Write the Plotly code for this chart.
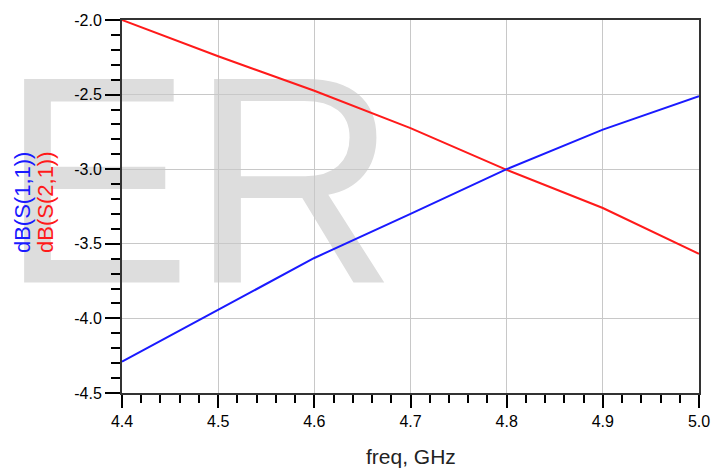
import base64
import plotly.graph_objects as go

# Frequency sweep (GHz) and S-parameter magnitudes (dB)
freq_ghz = [4.4, 4.5, 4.6, 4.7, 4.8, 4.9, 5.0]
s11_db = [-4.29, -3.94, -3.595, -3.30, -3.0, -2.735, -2.51]
s21_db = [-2.0, -2.243, -2.474, -2.725, -3.004, -3.26, -3.567]

x_ticks = [4.4, 4.5, 4.6, 4.7, 4.8, 4.9, 5.0]
x_tick_labels = ["4.4", "4.5", "4.6", "4.7", "4.8", "4.9", "5.0"]
y_ticks = [-4.5, -4.0, -3.5, -3.0, -2.5, -2.0]
y_tick_labels = ["-4.5", "-4.0", "-3.5", "-3.0", "-2.5", "-2.0"]

W, H = 722, 472
L, R, T, B = 122, 20, 15, 79
PW, PH = W - L - R, H - T - B
FONT = "Liberation Sans, Arial, sans-serif"


def px_x(px):
    return (px - L) / PW


def px_y(py):
    return (H - B - py) / PH


# Light grey "ER" mark laid under the grid (letters stretched slightly upward)
svg = (
    f'<svg xmlns="http://www.w3.org/2000/svg" width="{W}" height="{H}" '
    f'viewBox="0 0 {W} {H}">'
    f'<g transform="translate(0,281) scale(1,1.041)" '
    f'font-family="Liberation Sans, Arial, sans-serif" font-size="288" fill="#dddddd">'
    f'<text x="0" y="0">E</text><text x="191" y="0">R</text></g></svg>'
)
mark_src = "data:image/svg+xml;base64," + base64.b64encode(svg.encode()).decode()

fig = go.Figure()
fig.add_trace(go.Scatter(x=freq_ghz, y=s21_db, mode="lines",
                         line=dict(color="#ff1a1a", width=2), name="dB(S(2,1))"))
fig.add_trace(go.Scatter(x=freq_ghz, y=s11_db, mode="lines",
                         line=dict(color="#1a1aff", width=2), name="dB(S(1,1))"))

axis_common = dict(
    showgrid=True, gridcolor="#c8c8c8", gridwidth=1,
    ticks="outside", tickwidth=2, tickcolor="black",
    showline=True, linecolor="#333333", linewidth=2, mirror=True,
    zeroline=False, tickfont=dict(family=FONT, size=16, color="black"),
)

fig.update_layout(
    width=W, height=H,
    margin=dict(l=L, r=R, t=T, b=B, pad=0),
    paper_bgcolor="white", plot_bgcolor="rgba(0,0,0,0)",
    showlegend=False,
    xaxis=dict(range=[4.4, 5.0], tickvals=x_ticks, ticktext=x_tick_labels,
               ticklen=13,
               minor=dict(dtick=0.02, tick0=4.4, ticks="outside", ticklen=8,
                          tickwidth=2, tickcolor="black", showgrid=False),
               **axis_common),
    yaxis=dict(range=[-4.5, -2.0], tickvals=y_ticks, ticktext=y_tick_labels,
               ticklen=15,
               minor=dict(dtick=0.1, tick0=-4.5, ticks="outside", ticklen=9,
                          tickwidth=2, tickcolor="black", showgrid=False),
               **axis_common),
    images=[dict(source=mark_src, xref="paper", yref="paper",
                 x=-L / PW, y=1 + T / PH, sizex=W / PW, sizey=H / PH,
                 xanchor="left", yanchor="top", sizing="stretch",
                 layer="below")],
    annotations=[
        dict(text="freq, GHz", xref="paper", yref="paper",
             x=0.5, y=px_y(457), xanchor="center", yanchor="middle",
             showarrow=False, font=dict(family=FONT, size=21, color="#222222")),
        dict(text="dB(S(1,1))", xref="paper", yref="paper",
             x=px_x(22), y=px_y(200), xanchor="center", yanchor="middle",
             textangle=-90, showarrow=False,
             font=dict(family=FONT, size=22, color="#1a1aff")),
        dict(text="dB(S(2,1))", xref="paper", yref="paper",
             x=px_x(45), y=px_y(200), xanchor="center", yanchor="middle",
             textangle=-90, showarrow=False,
             font=dict(family=FONT, size=22, color="#ff1a1a")),
    ],
)

fig.write_html("out.html")
